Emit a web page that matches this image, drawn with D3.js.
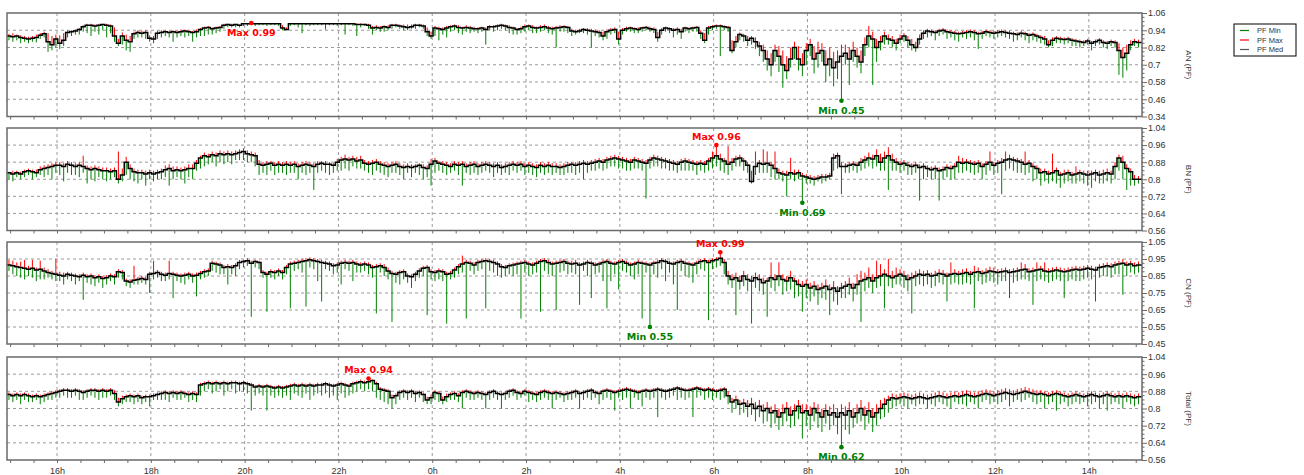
<!DOCTYPE html>
<html>
<head>
<meta charset="utf-8">
<script src="https://cdn.jsdelivr.net/npm/d3@7"></script>
<style>
  body { margin: 0; background: #fff; }
  svg { display: block; font-family: "Liberation Sans", Arial, sans-serif; }
</style>
</head>
<body>
<svg id="chart" width="1304" height="475"></svg>
<script>
// ---- time base: one value per 5-minute bucket ----
const startTime = new Date(2024, 0, 1, 14, 56);
const endTime = new Date(2024, 0, 2, 15, 8);
const stepMinutes = 5;

// ---- axis titles and tick values ----
const panelTitles = ["AN (PF)", "BN (PF)", "CN (PF)", "Total (PF)"];
const anTicks = [0.34, 0.46, 0.58, 0.7, 0.82, 0.94, 1.06];
const bnTicks = [0.56, 0.64, 0.72, 0.8, 0.88, 0.96, 1.04];
const cnTicks = [0.45, 0.55, 0.65, 0.75, 0.85, 0.95, 1.05];
const totalTicks = [0.56, 0.64, 0.72, 0.8, 0.88, 0.96, 1.04];
const seriesNames = ["PF Min", "PF Max", "PF Med"];

// ---- AN ----
const anMed = [
  0.90,0.895,0.90,0.89,0.885,0.88,0.885,0.89,0.905,0.915,
  0.86,0.84,0.88,0.85,0.87,0.925,0.93,0.935,0.945,0.965,
  0.975,0.975,0.97,0.975,0.98,0.975,0.97,0.90,0.85,0.90,
  0.87,0.86,0.915,0.925,0.92,0.925,0.885,0.88,0.92,0.925,
  0.93,0.925,0.93,0.925,0.93,0.935,0.93,0.925,0.93,0.945,
  0.955,0.96,0.95,0.955,0.96,0.975,0.98,0.975,0.98,0.975,
  0.985,0.985,0.985,0.985,0.985,0.985,0.985,0.985,0.985,0.985,
  0.955,0.945,0.985,0.985,0.985,0.985,0.985,0.985,0.985,0.985,
  0.985,0.985,0.985,0.985,0.985,0.985,0.985,0.985,0.985,0.98,
  0.98,0.98,0.975,0.955,0.96,0.955,0.965,0.96,0.975,0.975,
  0.97,0.965,0.96,0.965,0.975,0.975,0.97,0.93,0.90,0.955,
  0.95,0.945,0.955,0.965,0.97,0.96,0.955,0.96,0.955,0.95,
  0.95,0.955,0.945,0.965,0.965,0.97,0.975,0.97,0.96,0.955,
  0.945,0.95,0.965,0.97,0.96,0.955,0.96,0.965,0.955,0.95,
  0.955,0.96,0.965,0.96,
  0.935,0.93,0.935,0.945,0.94,0.935,0.93,0.925,0.90,0.93,
  0.94,0.945,0.88,0.94,0.95,0.955,0.95,0.945,0.955,0.96,
  0.95,0.945,0.89,0.94,0.955,0.95,0.94,0.945,0.93,0.955,
  0.95,0.955,0.96,0.92,0.87,0.955,0.965,0.97,0.97,0.965,
  0.96,0.80,0.86,0.91,0.90,0.87,0.885,0.86,0.83,0.80,
  0.74,0.70,0.80,0.76,0.70,0.66,0.74,0.82,0.74,0.70,
  0.80,0.84,0.74,0.78,0.80,0.70,0.74,0.68,0.72,0.76,
  0.78,0.74,0.80,0.76,0.72,0.84,0.90,0.88,0.82,0.86,
  0.90,0.88,0.87,0.85,0.88,0.90,0.87,0.84,0.82,0.88,
  0.92,0.935,0.93,0.925,0.935,0.94,0.93,0.925,0.92,0.915,
  0.92,0.925,0.93,0.925,0.915,0.92,0.93,0.925,0.92,0.925,
  0.93,0.925,0.92,0.915,0.91,0.92,0.915,0.905,0.91,0.90,
  0.89,0.88,0.84,0.87,0.885,0.88,0.875,0.88,0.87,0.865,
  0.86,0.855,0.865,0.85,0.86,0.87,0.855,0.85,0.86,0.855,
  0.80,0.75,0.78,0.84,0.86,0.855
];
const anMax = [
  0.915,0.92,0.91,0.905,0.90,0.895,0.90,0.91,0.92,0.93,
  0.92,0.90,0.91,0.905,0.92,0.94,0.94,0.945,0.955,0.975,
  0.985,0.985,0.98,0.985,0.985,0.985,0.98,0.96,0.88,0.925,
  0.91,0.90,0.93,0.94,0.935,0.94,0.905,0.90,0.935,0.94,
  0.94,0.935,0.94,0.935,0.945,0.945,0.94,0.935,0.945,0.955,
  0.965,0.97,0.96,0.965,0.97,0.985,0.985,0.985,0.985,0.98,
  0.988,0.988,0.99,0.988,0.988,0.988,0.988,0.988,0.988,0.988,
  0.975,0.96,0.988,0.988,0.988,0.988,0.988,0.988,0.988,0.988,
  0.988,0.988,0.988,0.988,0.988,0.988,0.988,0.988,0.988,0.988,
  0.988,0.985,0.985,0.97,0.975,0.97,0.975,0.975,0.985,0.985,
  0.98,0.98,0.98,0.98,0.985,0.985,0.98,0.96,0.93,0.97,
  0.965,0.96,0.97,0.975,0.98,0.975,0.965,0.975,0.97,0.965,
  0.96,0.965,0.96,0.975,0.975,0.98,0.985,0.98,0.975,0.965,
  0.955,0.965,0.98,0.98,0.975,0.965,0.975,0.98,0.97,0.965,
  0.97,0.975,0.975,0.97,
  0.95,0.945,0.95,0.955,0.955,0.95,0.945,0.94,0.93,0.945,
  0.955,0.96,0.93,0.955,0.965,0.965,0.96,0.96,0.965,0.97,
  0.965,0.96,0.93,0.955,0.965,0.96,0.955,0.96,0.95,0.965,
  0.96,0.965,0.97,0.94,0.92,0.97,0.975,0.98,0.98,0.975,
  0.97,0.87,0.90,0.925,0.915,0.90,0.90,0.89,0.86,0.84,
  0.80,0.78,0.84,0.83,0.80,0.76,0.82,0.86,0.83,0.78,
  0.85,0.88,0.83,0.86,0.85,0.80,0.82,0.79,0.80,0.84,
  0.84,0.82,0.86,0.82,0.80,0.89,0.97,0.93,0.88,0.90,
  0.93,0.91,0.90,0.88,0.91,0.92,0.90,0.88,0.86,0.91,
  0.94,0.95,0.945,0.94,0.95,0.955,0.945,0.94,0.935,0.93,
  0.935,0.94,0.945,0.94,0.93,0.935,0.945,0.94,0.935,0.94,
  0.945,0.94,0.935,0.93,0.925,0.935,0.93,0.92,0.925,0.915,
  0.905,0.90,0.87,0.89,0.90,0.895,0.89,0.895,0.885,0.88,
  0.875,0.87,0.88,0.865,0.875,0.885,0.87,0.865,0.875,0.87,
  0.85,0.82,0.84,0.87,0.88,0.875
];
const anMin = [
  0.87,0.86,0.87,0.85,0.86,0.85,0.86,0.855,0.88,0.89,
  0.79,0.80,0.82,0.81,0.83,0.89,0.90,0.91,0.91,0.93,
  0.92,0.90,0.93,0.91,0.94,0.89,0.92,0.86,0.83,0.84,
  0.80,0.79,0.88,0.89,0.89,0.88,0.86,0.85,0.88,0.89,
  0.90,0.89,0.86,0.89,0.90,0.89,0.90,0.86,0.89,0.90,
  0.90,0.91,0.91,0.92,0.93,0.95,0.96,0.96,0.96,0.96,
  0.97,0.97,0.975,0.97,0.975,0.975,0.97,0.975,0.975,0.97,
  0.94,0.94,0.97,0.975,0.96,0.92,0.975,0.97,0.975,0.975,
  0.975,0.945,0.975,0.975,0.97,0.975,0.91,0.975,0.97,0.90,
  0.96,0.97,0.95,0.91,0.94,0.93,0.93,0.94,0.95,0.96,
  0.95,0.94,0.94,0.95,0.95,0.96,0.95,0.90,0.88,0.90,
  0.87,0.91,0.89,0.93,0.94,0.92,0.91,0.93,0.92,0.93,
  0.92,0.93,0.84,0.94,0.93,0.94,0.95,0.94,0.92,0.91,
  0.91,0.92,0.93,0.94,0.92,0.92,0.93,0.94,0.92,0.91,
  0.82,0.93,0.93,0.92,
  0.90,0.91,0.92,0.92,0.91,0.82,0.90,0.89,0.87,0.88,
  0.91,0.92,0.84,0.91,0.93,0.93,0.92,0.92,0.93,0.94,
  0.93,0.92,0.86,0.91,0.93,0.92,0.89,0.91,0.88,0.93,
  0.92,0.93,0.93,0.88,0.85,0.91,0.94,0.95,0.76,0.94,
  0.93,0.78,0.82,0.87,0.86,0.83,0.84,0.81,0.76,0.72,
  0.66,0.62,0.72,0.65,0.54,0.60,0.68,0.74,0.66,0.62,
  0.70,0.76,0.64,0.68,0.72,0.58,0.62,0.55,0.60,0.45,
  0.70,0.56,0.72,0.68,0.64,0.76,0.82,0.56,0.72,0.80,
  0.84,0.84,0.82,0.80,0.85,0.86,0.82,0.80,0.79,0.84,
  0.88,0.89,0.90,0.87,0.90,0.91,0.88,0.89,0.87,0.86,
  0.89,0.88,0.89,0.87,0.81,0.88,0.90,0.89,0.88,0.89,
  0.90,0.89,0.88,0.86,0.87,0.89,0.87,0.85,0.87,0.86,
  0.85,0.84,0.82,0.83,0.85,0.85,0.84,0.85,0.83,0.83,
  0.82,0.83,0.84,0.80,0.83,0.84,0.82,0.81,0.83,0.82,
  0.63,0.61,0.66,0.80,0.83,0.82
];

// ---- BN ----
const bnMed = [
  0.83,0.825,0.83,0.825,0.835,0.84,0.835,0.83,0.845,0.85,
  0.855,0.86,0.865,0.865,0.86,0.87,0.865,0.86,0.865,0.86,
  0.85,0.845,0.85,0.845,0.84,0.84,0.835,0.84,0.80,0.82,
  0.88,0.85,0.835,0.83,0.83,0.825,0.83,0.825,0.83,0.835,
  0.845,0.85,0.84,0.845,0.84,0.845,0.85,0.85,0.875,0.90,
  0.91,0.905,0.915,0.91,0.92,0.915,0.92,0.915,0.92,0.925,
  0.93,0.92,0.915,0.91,0.87,0.865,0.87,0.875,0.865,0.87,
  0.865,0.87,0.865,0.87,0.86,0.865,0.87,0.865,0.86,0.87,
  0.875,0.87,0.87,0.865,0.88,0.89,0.895,0.89,0.895,0.885,
  0.89,0.875,0.87,0.875,0.88,0.87,0.865,0.86,0.865,0.87,
  0.86,0.855,0.86,0.855,0.86,0.865,0.855,0.85,0.87,0.885,
  0.875,0.87,0.865,0.86,0.87,0.865,0.87,0.86,0.865,0.87,
  0.86,0.865,0.87,0.865,0.86,0.865,0.855,0.86,0.865,0.87,
  0.865,0.87,0.86,0.865,0.86,0.855,0.865,0.86,0.865,0.86,
  0.86,0.855,0.86,0.865,
  0.87,0.865,0.87,0.875,0.87,0.875,0.88,0.885,0.88,0.89,
  0.895,0.90,0.895,0.89,0.885,0.88,0.89,0.885,0.88,0.875,
  0.89,0.90,0.895,0.89,0.885,0.88,0.875,0.87,0.88,0.885,
  0.88,0.875,0.87,0.875,0.87,0.885,0.90,0.91,0.895,0.885,
  0.87,0.88,0.895,0.90,0.885,0.865,0.79,0.86,0.875,0.87,
  0.875,0.865,0.85,0.83,0.825,0.82,0.83,0.825,0.83,0.815,
  0.81,0.805,0.80,0.805,0.81,0.81,0.815,0.90,0.91,0.86,
  0.86,0.865,0.87,0.865,0.88,0.89,0.90,0.895,0.91,0.88,
  0.90,0.91,0.89,0.88,0.87,0.875,0.865,0.86,0.865,0.855,
  0.86,0.85,0.845,0.85,0.84,0.845,0.855,0.85,0.86,0.88,
  0.875,0.88,0.875,0.87,0.875,0.86,0.87,0.88,0.865,0.875,
  0.88,0.89,0.895,0.89,0.885,0.88,0.87,0.875,0.86,0.85,
  0.83,0.835,0.825,0.83,0.84,0.82,0.825,0.83,0.82,0.825,
  0.83,0.825,0.82,0.825,0.83,0.82,0.825,0.83,0.825,0.86,
  0.90,0.88,0.85,0.835,0.80,0.80
];
const bnMax = [
  0.835,0.84,0.84,0.835,0.845,0.85,0.845,0.845,0.86,0.865,
  0.87,0.875,0.88,0.88,0.875,0.885,0.88,0.875,0.88,0.91,
  0.865,0.86,0.865,0.86,0.855,0.855,0.85,0.855,0.93,0.85,
  0.905,0.87,0.85,0.845,0.845,0.84,0.845,0.84,0.845,0.85,
  0.865,0.87,0.86,0.86,0.855,0.86,0.87,0.87,0.89,0.91,
  0.925,0.92,0.93,0.925,0.935,0.93,0.935,0.93,0.935,0.94,
  0.945,0.935,0.93,0.925,0.89,0.88,0.885,0.885,0.88,0.885,
  0.88,0.885,0.88,0.885,0.875,0.88,0.885,0.88,0.875,0.885,
  0.885,0.885,0.88,0.875,0.895,0.905,0.915,0.905,0.91,0.905,
  0.91,0.89,0.885,0.89,0.895,0.885,0.88,0.875,0.88,0.885,
  0.875,0.87,0.875,0.87,0.87,0.875,0.87,0.865,0.895,0.90,
  0.885,0.885,0.88,0.875,0.885,0.88,0.885,0.875,0.88,0.885,
  0.875,0.88,0.885,0.88,0.875,0.88,0.87,0.875,0.88,0.885,
  0.88,0.885,0.875,0.88,0.875,0.87,0.88,0.875,0.88,0.875,
  0.875,0.87,0.875,0.88,
  0.88,0.88,0.885,0.89,0.885,0.89,0.895,0.90,0.895,0.905,
  0.91,0.915,0.91,0.905,0.90,0.895,0.905,0.90,0.895,0.89,
  0.905,0.915,0.91,0.905,0.90,0.895,0.89,0.885,0.895,0.90,
  0.895,0.89,0.885,0.89,0.885,0.90,0.93,0.96,0.92,0.90,
  0.955,0.90,0.91,0.915,0.90,0.88,0.84,0.93,0.89,0.94,
  0.93,0.88,0.93,0.85,0.84,0.84,0.90,0.845,0.845,0.83,
  0.825,0.82,0.815,0.82,0.825,0.825,0.83,0.92,0.925,0.88,
  0.875,0.88,0.885,0.88,0.90,0.91,0.925,0.915,0.94,0.92,
  0.93,0.95,0.92,0.90,0.885,0.89,0.88,0.875,0.88,0.87,
  0.875,0.865,0.86,0.865,0.855,0.86,0.87,0.865,0.875,0.91,
  0.90,0.895,0.89,0.885,0.89,0.875,0.885,0.93,0.88,0.89,
  0.90,0.93,0.915,0.905,0.90,0.895,0.93,0.89,0.875,0.865,
  0.85,0.85,0.84,0.92,0.855,0.835,0.845,0.845,0.835,0.86,
  0.845,0.84,0.84,0.84,0.845,0.84,0.845,0.85,0.84,0.88,
  0.915,0.91,0.87,0.85,0.82,0.815
];
const bnMin = [
  0.80,0.79,0.81,0.80,0.81,0.82,0.80,0.81,0.82,0.81,
  0.82,0.80,0.83,0.82,0.79,0.83,0.82,0.82,0.81,0.83,
  0.78,0.80,0.79,0.81,0.80,0.79,0.80,0.81,0.78,0.79,
  0.82,0.80,0.79,0.78,0.80,0.77,0.80,0.79,0.80,0.80,
  0.81,0.77,0.80,0.81,0.80,0.78,0.81,0.80,0.84,0.85,
  0.86,0.87,0.88,0.86,0.88,0.87,0.88,0.87,0.89,0.89,
  0.89,0.88,0.88,0.86,0.82,0.83,0.82,0.84,0.82,0.83,
  0.83,0.82,0.83,0.83,0.80,0.83,0.82,0.83,0.75,0.83,
  0.84,0.83,0.82,0.83,0.84,0.84,0.85,0.84,0.86,0.85,
  0.85,0.84,0.83,0.82,0.84,0.83,0.82,0.81,0.83,0.83,
  0.82,0.80,0.83,0.81,0.83,0.82,0.80,0.81,0.77,0.83,
  0.84,0.83,0.82,0.83,0.84,0.82,0.77,0.83,0.82,0.83,
  0.82,0.83,0.84,0.83,0.81,0.83,0.82,0.83,0.82,0.84,
  0.83,0.84,0.82,0.83,0.82,0.81,0.83,0.82,0.83,0.82,
  0.83,0.82,0.82,0.83,
  0.83,0.82,0.83,0.80,0.83,0.84,0.84,0.85,0.84,0.85,
  0.86,0.86,0.85,0.85,0.84,0.84,0.85,0.85,0.84,0.71,
  0.85,0.86,0.86,0.85,0.85,0.84,0.84,0.83,0.84,0.84,
  0.84,0.84,0.82,0.84,0.83,0.84,0.85,0.86,0.84,0.83,
  0.82,0.84,0.86,0.86,0.84,0.83,0.78,0.82,0.83,0.83,
  0.83,0.81,0.80,0.80,0.79,0.72,0.80,0.79,0.80,0.69,
  0.78,0.78,0.77,0.79,0.78,0.79,0.80,0.84,0.85,0.73,
  0.83,0.83,0.84,0.83,0.84,0.85,0.86,0.85,0.86,0.84,
  0.84,0.75,0.84,0.84,0.83,0.84,0.82,0.82,0.83,0.70,
  0.80,0.81,0.80,0.80,0.70,0.80,0.81,0.80,0.80,0.83,
  0.83,0.84,0.83,0.82,0.83,0.80,0.82,0.84,0.82,0.83,
  0.73,0.84,0.85,0.84,0.83,0.83,0.82,0.83,0.79,0.80,
  0.77,0.79,0.78,0.79,0.78,0.76,0.78,0.79,0.78,0.78,
  0.79,0.78,0.77,0.76,0.79,0.78,0.78,0.79,0.78,0.80,
  0.84,0.80,0.75,0.77,0.77,0.78
];

// ---- CN ----
const cnMed = [
  0.915,0.91,0.905,0.90,0.895,0.89,0.895,0.885,0.89,0.88,
  0.87,0.865,0.86,0.855,0.85,0.86,0.855,0.85,0.845,0.855,
  0.845,0.85,0.84,0.845,0.835,0.84,0.85,0.845,0.875,0.87,
  0.82,0.815,0.825,0.83,0.835,0.83,0.86,0.865,0.87,0.86,
  0.855,0.865,0.86,0.855,0.85,0.855,0.86,0.85,0.855,0.865,
  0.875,0.88,0.925,0.92,0.915,0.90,0.905,0.90,0.91,0.93,
  0.935,0.94,0.925,0.935,0.93,0.87,0.86,0.875,0.87,0.88,
  0.87,0.90,0.92,0.925,0.93,0.935,0.94,0.945,0.94,0.935,
  0.93,0.925,0.92,0.91,0.915,0.925,0.93,0.925,0.93,0.92,
  0.915,0.92,0.915,0.90,0.905,0.91,0.90,0.88,0.865,0.86,
  0.87,0.875,0.85,0.845,0.86,0.88,0.895,0.90,0.875,0.87,
  0.88,0.875,0.86,0.865,0.885,0.905,0.92,0.93,0.925,0.915,
  0.93,0.935,0.94,0.935,0.93,0.92,0.905,0.90,0.91,0.915,
  0.92,0.925,0.93,0.92,0.915,0.925,0.935,0.94,0.93,0.92,
  0.925,0.93,0.935,0.925,
  0.92,0.925,0.915,0.92,0.93,0.925,0.915,0.92,0.93,0.935,
  0.925,0.92,0.93,0.935,0.925,0.915,0.92,0.93,0.925,0.92,
  0.915,0.925,0.93,0.94,0.935,0.925,0.92,0.93,0.935,0.925,
  0.92,0.915,0.925,0.935,0.94,0.93,0.94,0.945,0.955,0.93,
  0.85,0.83,0.84,0.82,0.85,0.83,0.82,0.84,0.83,0.81,
  0.82,0.84,0.83,0.85,0.83,0.82,0.84,0.82,0.80,0.79,
  0.80,0.78,0.79,0.77,0.78,0.79,0.77,0.78,0.76,0.78,
  0.79,0.80,0.78,0.80,0.82,0.83,0.84,0.82,0.84,0.85,
  0.86,0.85,0.84,0.85,0.86,0.85,0.83,0.84,0.85,0.86,
  0.855,0.86,0.85,0.855,0.865,0.86,0.85,0.86,0.865,0.86,
  0.865,0.87,0.86,0.87,0.875,0.865,0.87,0.88,0.875,0.87,
  0.875,0.88,0.87,0.875,0.88,0.885,0.89,0.875,0.88,0.885,
  0.89,0.88,0.875,0.88,0.885,0.88,0.875,0.88,0.885,0.89,
  0.885,0.89,0.895,0.89,0.885,0.90,0.905,0.91,0.905,0.915,
  0.92,0.925,0.915,0.92,0.91,0.915
];
const cnMax = [
  0.945,0.94,0.93,0.935,0.945,0.91,0.945,0.90,0.94,0.90,
  0.89,0.88,0.95,0.875,0.87,0.875,0.87,0.865,0.86,0.87,
  0.86,0.865,0.855,0.86,0.85,0.855,0.865,0.86,0.89,0.885,
  0.835,0.83,0.91,0.845,0.85,0.845,0.875,0.94,0.885,0.875,
  0.87,0.94,0.875,0.87,0.865,0.87,0.875,0.865,0.87,0.88,
  0.89,0.895,0.94,0.935,0.93,0.915,0.92,0.915,0.925,0.945,
  0.945,0.955,0.94,0.945,0.94,0.885,0.875,0.89,0.885,0.895,
  0.885,0.915,0.935,0.94,0.945,0.95,0.955,0.96,0.955,0.95,
  0.945,0.94,0.935,0.925,0.93,0.94,0.945,0.94,0.945,0.935,
  0.93,0.935,0.93,0.915,0.92,0.925,0.92,0.90,0.88,0.875,
  0.885,0.89,0.865,0.86,0.875,0.895,0.91,0.915,0.89,0.885,
  0.895,0.89,0.875,0.88,0.90,0.92,0.97,0.945,0.94,0.93,
  0.945,0.95,0.955,0.95,0.945,0.935,0.92,0.915,0.925,0.93,
  0.935,0.94,0.945,0.935,0.93,0.94,0.95,0.955,0.945,0.935,
  0.94,0.945,0.95,0.94,
  0.94,0.945,0.93,0.935,0.945,0.94,0.93,0.935,0.945,0.95,
  0.94,0.935,0.945,0.95,0.94,0.93,0.935,0.945,0.94,0.935,
  0.93,0.94,0.945,0.955,0.95,0.94,0.935,0.945,0.95,0.94,
  0.935,0.93,0.94,0.95,0.955,0.945,0.955,0.96,0.99,0.95,
  0.88,0.86,0.87,0.85,0.88,0.86,0.85,0.87,0.86,0.84,
  0.84,0.93,0.86,0.93,0.86,0.85,0.88,0.84,0.83,0.82,
  0.83,0.81,0.82,0.80,0.81,0.83,0.80,0.82,0.79,0.81,
  0.82,0.84,0.81,0.86,0.88,0.87,0.90,0.86,0.94,0.92,
  0.89,0.95,0.88,0.90,0.89,0.88,0.86,0.87,0.88,0.89,
  0.88,0.885,0.87,0.88,0.89,0.885,0.87,0.93,0.89,0.88,
  0.89,0.895,0.88,0.91,0.90,0.885,0.895,0.905,0.90,0.89,
  0.895,0.90,0.89,0.895,0.90,0.93,0.92,0.895,0.90,0.93,
  0.91,0.93,0.895,0.90,0.905,0.90,0.895,0.90,0.905,0.91,
  0.905,0.91,0.915,0.91,0.905,0.92,0.925,0.93,0.925,0.935,
  0.94,0.95,0.935,0.94,0.93,0.935
];
const cnMin = [
  0.88,0.86,0.85,0.84,0.83,0.85,0.84,0.82,0.83,0.83,
  0.84,0.83,0.82,0.82,0.80,0.83,0.82,0.80,0.82,0.71,
  0.81,0.80,0.79,0.81,0.78,0.80,0.82,0.80,0.84,0.83,
  0.79,0.78,0.80,0.80,0.81,0.80,0.75,0.83,0.84,0.82,
  0.82,0.83,0.72,0.82,0.81,0.80,0.83,0.81,0.73,0.83,
  0.84,0.85,0.88,0.87,0.86,0.86,0.80,0.86,0.85,0.89,
  0.90,0.91,0.61,0.90,0.89,0.84,0.64,0.84,0.83,0.85,
  0.83,0.86,0.66,0.88,0.89,0.87,0.67,0.90,0.89,0.82,
  0.70,0.89,0.88,0.86,0.87,0.80,0.89,0.88,0.82,0.87,
  0.87,0.88,0.86,0.84,0.63,0.87,0.85,0.83,0.58,0.81,
  0.80,0.83,0.81,0.78,0.82,0.84,0.85,0.62,0.83,0.82,
  0.83,0.82,0.57,0.83,0.84,0.86,0.87,0.60,0.88,0.86,
  0.88,0.89,0.66,0.88,0.87,0.85,0.84,0.85,0.86,0.85,
  0.86,0.60,0.87,0.85,0.86,0.87,0.64,0.88,0.86,0.85,
  0.65,0.87,0.88,0.86,
  0.87,0.86,0.68,0.88,0.85,0.72,0.86,0.87,0.82,0.66,
  0.82,0.86,0.77,0.88,0.87,0.85,0.83,0.86,0.60,0.87,
  0.55,0.86,0.84,0.89,0.82,0.87,0.80,0.65,0.88,0.85,
  0.84,0.81,0.86,0.89,0.88,0.59,0.89,0.90,0.91,0.86,
  0.80,0.78,0.62,0.77,0.79,0.76,0.57,0.78,0.76,0.74,
  0.61,0.78,0.76,0.79,0.74,0.76,0.77,0.72,0.73,0.64,
  0.72,0.70,0.73,0.68,0.72,0.71,0.62,0.70,0.68,0.72,
  0.72,0.74,0.70,0.74,0.58,0.76,0.78,0.75,0.78,0.79,
  0.66,0.79,0.78,0.80,0.80,0.78,0.76,0.63,0.79,0.80,
  0.79,0.80,0.78,0.79,0.81,0.80,0.70,0.80,0.81,0.80,
  0.80,0.81,0.80,0.66,0.82,0.80,0.81,0.82,0.81,0.80,
  0.82,0.82,0.72,0.81,0.82,0.83,0.83,0.82,0.68,0.82,
  0.83,0.82,0.81,0.82,0.83,0.82,0.72,0.82,0.83,0.82,
  0.82,0.83,0.84,0.83,0.70,0.84,0.85,0.85,0.84,0.86,
  0.86,0.74,0.85,0.87,0.86,0.87
];

// ---- Total ----
const totalMed = [
  0.865,0.86,0.865,0.86,0.865,0.86,0.855,0.86,0.855,0.86,
  0.865,0.87,0.875,0.88,0.885,0.885,0.88,0.885,0.88,0.875,
  0.88,0.885,0.885,0.88,0.885,0.88,0.885,0.87,0.83,0.845,
  0.855,0.86,0.855,0.86,0.85,0.855,0.855,0.86,0.865,0.87,
  0.875,0.87,0.875,0.87,0.875,0.87,0.865,0.87,0.865,0.91,
  0.915,0.92,0.915,0.92,0.915,0.92,0.915,0.92,0.92,0.915,
  0.92,0.915,0.91,0.90,0.905,0.90,0.905,0.90,0.895,0.90,
  0.895,0.90,0.905,0.91,0.905,0.91,0.905,0.91,0.905,0.91,
  0.91,0.915,0.91,0.905,0.91,0.915,0.91,0.905,0.915,0.92,
  0.925,0.92,0.925,0.93,0.915,0.89,0.885,0.88,0.85,0.86,
  0.875,0.88,0.875,0.88,0.87,0.875,0.865,0.84,0.85,0.875,
  0.87,0.84,0.855,0.865,0.87,0.86,0.875,0.88,0.875,0.87,
  0.875,0.87,0.865,0.875,0.88,0.87,0.865,0.87,0.88,0.885,
  0.875,0.87,0.88,0.875,0.87,0.865,0.875,0.88,0.875,0.87,
  0.875,0.87,0.865,0.87,
  0.875,0.88,0.87,0.875,0.88,0.885,0.875,0.87,0.88,0.885,
  0.88,0.875,0.88,0.885,0.89,0.885,0.88,0.875,0.88,0.885,
  0.88,0.885,0.89,0.885,0.88,0.885,0.89,0.895,0.89,0.885,
  0.885,0.89,0.895,0.89,0.885,0.89,0.885,0.88,0.885,0.89,
  0.86,0.83,0.84,0.82,0.825,0.81,0.82,0.80,0.81,0.79,
  0.80,0.78,0.79,0.76,0.78,0.80,0.77,0.79,0.81,0.78,
  0.79,0.77,0.80,0.78,0.76,0.79,0.77,0.78,0.76,0.78,
  0.77,0.79,0.76,0.78,0.80,0.77,0.79,0.76,0.78,0.80,
  0.82,0.84,0.85,0.845,0.85,0.855,0.85,0.845,0.85,0.855,
  0.85,0.845,0.85,0.855,0.86,0.855,0.85,0.855,0.86,0.855,
  0.86,0.865,0.86,0.855,0.86,0.865,0.87,0.865,0.86,0.865,
  0.87,0.875,0.87,0.865,0.87,0.875,0.88,0.875,0.87,0.865,
  0.87,0.865,0.86,0.865,0.87,0.865,0.86,0.855,0.86,0.865,
  0.86,0.855,0.86,0.865,0.86,0.855,0.86,0.865,0.86,0.855,
  0.86,0.855,0.86,0.855,0.85,0.855
];
const totalMax = [
  0.875,0.87,0.875,0.87,0.875,0.87,0.865,0.87,0.865,0.87,
  0.875,0.88,0.885,0.89,0.895,0.895,0.89,0.895,0.89,0.885,
  0.89,0.895,0.895,0.89,0.895,0.89,0.895,0.885,0.85,0.86,
  0.865,0.87,0.865,0.87,0.86,0.865,0.865,0.87,0.875,0.88,
  0.885,0.88,0.885,0.88,0.885,0.88,0.875,0.88,0.875,0.92,
  0.925,0.93,0.925,0.93,0.925,0.93,0.925,0.93,0.93,0.925,
  0.93,0.925,0.92,0.91,0.915,0.91,0.915,0.91,0.905,0.91,
  0.905,0.91,0.915,0.92,0.915,0.92,0.915,0.92,0.915,0.92,
  0.92,0.925,0.92,0.915,0.92,0.925,0.92,0.915,0.925,0.93,
  0.935,0.93,0.94,0.935,0.925,0.90,0.895,0.89,0.865,0.87,
  0.885,0.89,0.885,0.89,0.88,0.885,0.875,0.855,0.865,0.885,
  0.88,0.855,0.87,0.875,0.88,0.87,0.885,0.89,0.885,0.88,
  0.885,0.88,0.875,0.885,0.89,0.88,0.875,0.88,0.89,0.895,
  0.885,0.88,0.89,0.885,0.88,0.875,0.885,0.89,0.885,0.88,
  0.885,0.88,0.875,0.88,
  0.885,0.89,0.88,0.885,0.89,0.895,0.885,0.88,0.89,0.895,
  0.89,0.885,0.89,0.895,0.90,0.895,0.89,0.885,0.89,0.895,
  0.89,0.895,0.90,0.895,0.89,0.895,0.90,0.905,0.90,0.895,
  0.895,0.90,0.905,0.90,0.895,0.90,0.895,0.89,0.895,0.90,
  0.88,0.85,0.86,0.84,0.845,0.84,0.85,0.83,0.84,0.82,
  0.83,0.81,0.82,0.80,0.82,0.83,0.81,0.82,0.84,0.82,
  0.82,0.81,0.83,0.82,0.80,0.82,0.81,0.82,0.80,0.82,
  0.81,0.83,0.80,0.82,0.84,0.81,0.83,0.80,0.82,0.84,
  0.85,0.86,0.87,0.865,0.87,0.875,0.87,0.865,0.87,0.875,
  0.87,0.865,0.87,0.875,0.88,0.875,0.87,0.875,0.88,0.875,
  0.88,0.885,0.88,0.875,0.88,0.885,0.89,0.885,0.88,0.885,
  0.89,0.895,0.89,0.885,0.89,0.895,0.90,0.895,0.89,0.885,
  0.885,0.88,0.875,0.88,0.885,0.88,0.875,0.87,0.875,0.88,
  0.875,0.87,0.875,0.88,0.875,0.87,0.875,0.88,0.875,0.87,
  0.875,0.87,0.875,0.87,0.865,0.87
];
const totalMin = [
  0.84,0.83,0.84,0.82,0.84,0.83,0.83,0.84,0.82,0.83,
  0.84,0.84,0.85,0.85,0.86,0.85,0.85,0.86,0.84,0.84,
  0.85,0.86,0.85,0.84,0.85,0.85,0.86,0.84,0.81,0.82,
  0.83,0.83,0.82,0.83,0.82,0.83,0.81,0.84,0.84,0.84,
  0.84,0.83,0.85,0.84,0.84,0.85,0.83,0.84,0.83,0.86,
  0.88,0.89,0.87,0.88,0.89,0.86,0.88,0.89,0.87,0.88,
  0.88,0.87,0.79,0.86,0.87,0.86,0.79,0.86,0.85,0.86,
  0.85,0.86,0.84,0.87,0.86,0.85,0.87,0.84,0.86,0.87,
  0.86,0.87,0.85,0.86,0.84,0.87,0.85,0.86,0.87,0.88,
  0.89,0.88,0.89,0.88,0.85,0.84,0.83,0.82,0.80,0.82,
  0.84,0.85,0.84,0.85,0.83,0.85,0.83,0.82,0.82,0.84,
  0.83,0.82,0.83,0.84,0.84,0.83,0.80,0.85,0.84,0.84,
  0.85,0.84,0.80,0.84,0.85,0.84,0.80,0.84,0.85,0.86,
  0.84,0.85,0.86,0.83,0.84,0.83,0.84,0.85,0.84,0.80,
  0.84,0.85,0.83,0.84,
  0.84,0.85,0.80,0.84,0.85,0.84,0.85,0.82,0.84,0.85,
  0.84,0.79,0.85,0.84,0.85,0.80,0.85,0.84,0.81,0.85,
  0.84,0.85,0.76,0.85,0.84,0.85,0.86,0.84,0.85,0.84,
  0.85,0.76,0.85,0.86,0.84,0.85,0.84,0.85,0.84,0.85,
  0.82,0.78,0.80,0.77,0.78,0.76,0.77,0.74,0.76,0.73,
  0.74,0.71,0.73,0.70,0.72,0.74,0.71,0.72,0.75,0.66,
  0.72,0.70,0.74,0.71,0.69,0.73,0.70,0.72,0.68,0.62,
  0.70,0.68,0.71,0.73,0.74,0.70,0.73,0.69,0.72,0.75,
  0.76,0.78,0.80,0.81,0.82,0.81,0.80,0.82,0.81,0.82,
  0.82,0.80,0.82,0.81,0.83,0.82,0.81,0.80,0.83,0.82,
  0.82,0.81,0.83,0.82,0.80,0.83,0.84,0.82,0.83,0.82,
  0.83,0.84,0.81,0.83,0.84,0.83,0.84,0.85,0.83,0.82,
  0.83,0.80,0.82,0.83,0.79,0.82,0.83,0.81,0.82,0.83,
  0.82,0.83,0.81,0.82,0.83,0.80,0.82,0.79,0.82,0.83,
  0.82,0.80,0.83,0.82,0.81,0.82
];

// ---- layout ----
const plotLeft = 7, plotRight = 1142;
const panelBands = [[13, 116.5], [128, 230.5], [242, 344], [357, 460]];
const maxLabelBelow = [true, false, false, false];
const colMin = "#008000", colMax = "#ff0000", colMed = "#000000";
const gridColor = "#9a9a9a", frameColor = "#6a6a6a", textColor = "#333";

const panels = [
  { title: panelTitles[0], ticks: anTicks, med: anMed, max: anMax, min: anMin },
  { title: panelTitles[1], ticks: bnTicks, med: bnMed, max: bnMax, min: bnMin },
  { title: panelTitles[2], ticks: cnTicks, med: cnMed, max: cnMax, min: cnMin },
  { title: panelTitles[3], ticks: totalTicks, med: totalMed, max: totalMax, min: totalMin }
];
panels.forEach(p => {
  if (p.med.length !== p.max.length || p.med.length !== p.min.length)
    throw new Error(p.title + ": " + p.med.length + "/" + p.max.length + "/" + p.min.length);
});

const svg = d3.select("#chart");
const x = d3.scaleTime().domain([startTime, endTime]).range([plotLeft, plotRight]);
const bucketStart = i => d3.timeMinute.offset(startTime, i * stepMinutes);
const bucketMid = i => new Date(startTime.getTime() + (i + 0.5) * stepMinutes * 60000);
const fmt2 = d3.format(".2f");
const majorHours = x.ticks(d3.timeHour.every(2));
const halfHours = x.ticks(d3.timeMinute.every(30));

panels.forEach((p, k) => {
  const [top, bottom] = panelBands[k];
  const t = p.ticks;
  const y = d3.scaleLinear().domain([t[0], t[t.length - 1]]).range([bottom, top]);
  const g = svg.append("g");

  const clipId = "clip" + k;
  svg.append("clipPath").attr("id", clipId)
    .append("rect").attr("x", plotLeft).attr("y", top)
    .attr("width", plotRight - plotLeft).attr("height", bottom - top);

  // dashed grid
  g.append("g").selectAll("line").data(t.slice(1, -1)).join("line")
    .attr("x1", plotLeft).attr("x2", plotRight)
    .attr("y1", d => y(d)).attr("y2", d => y(d))
    .attr("stroke", gridColor).attr("stroke-dasharray", "3,3").attr("stroke-width", 1);
  g.append("g").selectAll("line").data(majorHours).join("line")
    .attr("x1", d => x(d)).attr("x2", d => x(d))
    .attr("y1", top).attr("y2", bottom)
    .attr("stroke", gridColor).attr("stroke-dasharray", "3,3").attr("stroke-width", 1);

  const plot = g.append("g").attr("clip-path", `url(#${clipId})`);
  const idx = d3.range(p.med.length);

  // min / max excursions around the median
  plot.append("g").selectAll("line").data(idx).join("line")
    .attr("x1", i => x(bucketMid(i))).attr("x2", i => x(bucketMid(i)))
    .attr("y1", i => y(p.med[i])).attr("y2", i => y(p.min[i]))
    .attr("stroke", colMin).attr("stroke-width", 1);
  plot.append("g").selectAll("line").data(idx).join("line")
    .attr("x1", i => x(bucketMid(i))).attr("x2", i => x(bucketMid(i)))
    .attr("y1", i => y(p.med[i])).attr("y2", i => y(p.max[i]))
    .attr("stroke", colMax).attr("stroke-width", 1);

  // median step line
  const pts = p.med.map((v, i) => [bucketStart(i), v]);
  pts.push([endTime, p.med[p.med.length - 1]]);
  plot.append("path").datum(pts)
    .attr("fill", "none").attr("stroke", colMed).attr("stroke-width", 1.5)
    .attr("d", d3.line().x(d => x(d[0])).y(d => y(d[1])).curve(d3.curveStepAfter));

  // frame
  g.append("rect").attr("x", plotLeft).attr("y", top)
    .attr("width", plotRight - plotLeft).attr("height", bottom - top)
    .attr("fill", "none").attr("stroke", frameColor).attr("stroke-width", 1.5);

  // right value axis
  const yAxis = d3.axisRight(y).tickValues(t).tickSize(5).tickPadding(1).tickFormat(d3.format(""));
  const ya = g.append("g").attr("transform", `translate(${plotRight},0)`).call(yAxis);
  ya.select(".domain").remove();
  ya.selectAll("line").attr("stroke", frameColor);
  ya.selectAll("text").attr("fill", textColor).style("font-size", "9px");
  const minorY = d3.range(t.length - 1).flatMap(j => [1, 2, 3].map(m => t[j] + (t[j + 1] - t[j]) * m / 4));
  g.append("g").selectAll("line").data(minorY).join("line")
    .attr("x1", plotRight).attr("x2", plotRight + 2.5)
    .attr("y1", d => y(d)).attr("y2", d => y(d))
    .attr("stroke", frameColor);

  // bottom time ticks
  const xAxis = d3.axisBottom(x).tickValues(halfHours).tickSize(3)
    .tickFormat(d => (k === panels.length - 1 && d.getMinutes() === 0 && d.getHours() % 2 === 0) ? d3.timeFormat("%-Hh")(d) : "");
  const xa = g.append("g").attr("transform", `translate(0,${bottom})`).call(xAxis);
  xa.select(".domain").remove();
  xa.selectAll("line").attr("stroke", frameColor);
  xa.selectAll("text").attr("fill", textColor).style("font-size", "9px").attr("dy", "0.9em");

  // axis title
  g.append("text")
    .attr("transform", `translate(1186,${(top + bottom) / 2}) rotate(90)`)
    .attr("text-anchor", "middle").attr("fill", textColor)
    .style("font-size", "8px").text(p.title);

  // extreme markers
  const iMin = d3.minIndex(p.min), iMax = d3.maxIndex(p.max);
  const vMin = p.min[iMin], vMax = p.max[iMax];
  const mx = x(bucketMid(iMin)), my = y(vMin);
  g.append("circle").attr("cx", mx).attr("cy", my).attr("r", 2.3).attr("fill", colMin);
  g.append("text").attr("x", mx).attr("y", my + 13).attr("text-anchor", "middle")
    .attr("fill", colMin).style("font-size", "9.5px").style("font-weight", "bold")
    .style("font-family", "'DejaVu Sans', sans-serif")
    .text("Min " + fmt2(vMin));
  const Mx = x(bucketMid(iMax)), My = y(vMax);
  g.append("circle").attr("cx", Mx).attr("cy", My).attr("r", 2.3).attr("fill", colMax);
  g.append("text").attr("x", Mx).attr("y", maxLabelBelow[k] ? My + 13 : My - 5).attr("text-anchor", "middle")
    .attr("fill", colMax).style("font-size", "9.5px").style("font-weight", "bold")
    .style("font-family", "'DejaVu Sans', sans-serif")
    .text("Max " + fmt2(vMax));
});

// legend
const legend = svg.append("g").attr("transform", "translate(1234,24)");
legend.append("rect").attr("width", 62).attr("height", 32)
  .attr("fill", "#fff").attr("stroke", "#000").attr("stroke-width", 1);
const legendColors = [colMin, colMax, "#555"];
seriesNames.forEach((name, j) => {
  const ly = 6.5 + j * 9.5;
  legend.append("line").attr("x1", 6).attr("x2", 15).attr("y1", ly).attr("y2", ly)
    .attr("stroke", legendColors[j]).attr("stroke-width", 1.2);
  legend.append("text").attr("x", 23).attr("y", ly).attr("dy", "0.35em")
    .attr("fill", textColor).style("font-size", "7.5px").text(name);
});
</script>
</body>
</html>
